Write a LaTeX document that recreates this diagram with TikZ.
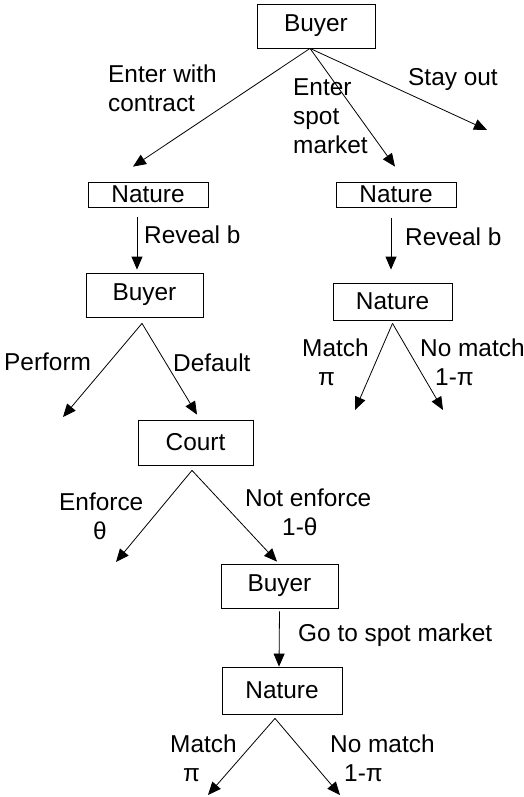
\documentclass[tikz,border=0pt]{standalone}
\usepackage{fontspec}
\setmainfont{Liberation Sans}
\usetikzlibrary{arrows.meta}

\begin{document}
\begin{tikzpicture}[x=1pt,y=-1pt]
\tikzstyle{fleche}=[-{Triangle[length=13pt,width=11pt]},line width=0.8pt]
\tikzstyle{noeud}=[draw,line width=0.8pt,inner sep=0pt,font=\fontsize{24.4}{29}\selectfont]
\tikzstyle{etiquette}=[anchor=west,align=left,inner sep=0pt,font=\fontsize{24.4}{29}\selectfont]
\useasboundingbox (0,0) rectangle (524,797);
% decision / chance nodes
\node[noeud,minimum width=118pt,minimum height=44pt] (R) at (316,26) {Buyer};
\node[noeud,minimum width=120pt,minimum height=25pt] (Ra) at (148,194.5) {Nature};
\node[noeud,minimum width=120pt,minimum height=25pt] (Rb) at (396,194.5) {Nature};
\node[noeud,minimum width=117pt,minimum height=44pt] (Raa) at (144.5,295) {Buyer};
\node[noeud,minimum width=119pt,minimum height=37pt] (Rba) at (392.5,301.5) {Nature};
\node[noeud,minimum width=115pt,minimum height=45pt] (Raab) at (195.5,442.5) {Court};
\node[noeud,minimum width=117pt,minimum height=44pt] (Raabb) at (279.5,586) {Buyer};
\node[noeud,minimum width=120pt,minimum height=47pt] (Raabba) at (282,690.5) {Nature};
% free ends
\coordinate (Rc) at (487,130);
\coordinate (Raaa) at (63,417);
\coordinate (Raaba) at (116,562);
\coordinate (Rbaa) at (355,410);
\coordinate (Rbab) at (443,410);
\coordinate (Raabbaa) at (208,795);
\coordinate (Raabbab) at (340,795);
% moves
\draw[fleche] ([xshift=-6pt]R.south)--([xshift=-15pt,yshift=15pt]Ra.north);
\draw[fleche] ([xshift=-6pt]R.south)--([xshift=-1pt,yshift=15pt]Rb.north);
\draw[fleche] ([xshift=-6pt]R.south)--(Rc);
\draw[fleche] ([xshift=-11pt,yshift=-10pt]Ra.south)--([xshift=-7.5pt,yshift=3pt]Raa.north);
\draw[fleche] ([xshift=-5pt,yshift=-11pt]Rb.south)--([xshift=-1.5pt,yshift=13pt]Rba.north);
\draw[fleche] ([xshift=-2.5pt,yshift=-6pt]Raa.south)--(Raaa);
\draw[fleche] ([xshift=-2.5pt,yshift=-6pt]Raa.south)--([xshift=1.5pt,yshift=5pt]Raab.north);
\draw[fleche] ([xshift=-3.5pt,yshift=-5pt]Raab.south)--(Raaba);
\draw[fleche] ([xshift=-3.5pt,yshift=-5pt]Raab.south)--([xshift=-2.5pt,yshift=2pt]Raabb.north);
\draw[fleche] ([yshift=-3pt]Raabb.south)--([xshift=-3pt]Raabba.north);
\draw[fleche] ([xshift=-7pt,yshift=-4pt]Raabba.south)--(Raabbaa);
\draw[fleche] ([xshift=-7pt,yshift=-4pt]Raabba.south)--(Raabbab);
\draw[fleche] ([yshift=-3pt]Rba.south)--(Rbaa);
\draw[fleche] ([yshift=-3pt]Rba.south)--(Rbab);
% labels
\node[etiquette] (Lra) at (108,88) {Enter with\\contract};
\node[etiquette] (Lrb) at (293,116) {Enter\\spot\\market};
\node[etiquette] (Lrc) at (408,80) {Stay out};
\node[etiquette] (Lra2) at (144,235) {Reveal b};
\node[etiquette] (Lrb2) at (405,237) {Reveal b};
\node[etiquette] (Lraaa) at (4,362) {Perform};
\node[etiquette] (Lraab) at (173,363) {Default};
\node[etiquette] (Lrbaa) at (302,362) {Match\\\hspace{16pt}π};
\node[etiquette] (Lrbab) at (420,362) {No match\\\hspace{15pt}1-π};
\node[etiquette] (Lraaba) at (59,516) {Enforce\\\hspace{34pt}θ};
\node[etiquette] (Lraabb) at (245,512) {Not enforce\\\hspace{37pt}1-θ};
\node[etiquette] (Lraabba) at (298,635) {Go to spot market};
\node[etiquette] (Lrbbaa) at (170,758) {Match\\\hspace{13pt}π};
\node[etiquette] (Lrbbab) at (330,758) {No match\\\hspace{14pt}1-π};
\end{tikzpicture}
\end{document}
